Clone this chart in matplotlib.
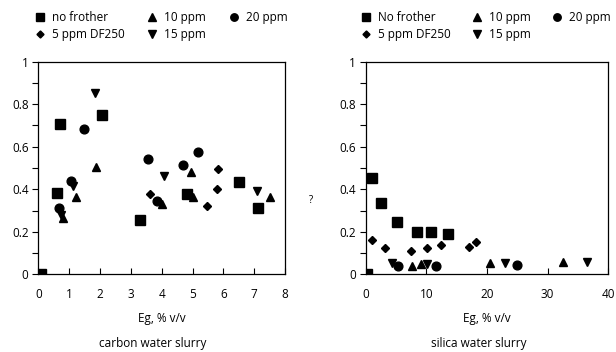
import matplotlib
matplotlib.use("Agg")
import matplotlib.pyplot as plt
import matplotlib.ticker as mticker

plt.rcParams['font.family'] = ['Open Sans', 'DejaVu Sans']

# --- carbon water slurry ---
c_nofrother_x = [0.08, 0.70, 0.59, 2.05, 3.30, 4.83, 6.51, 7.11]
c_nofrother_y = [0.0, 0.707, 0.384, 0.750, 0.256, 0.376, 0.433, 0.314]
c_df250_x = [3.61, 5.48, 5.78, 5.84]
c_df250_y = [0.378, 0.322, 0.403, 0.494]
c_10ppm_x = [0.79, 1.21, 1.88, 4.02, 4.95, 5.01, 7.52]
c_10ppm_y = [0.264, 0.365, 0.504, 0.331, 0.483, 0.362, 0.365]
c_15ppm_x = [0.74, 1.11, 1.84, 4.06, 7.10]
c_15ppm_y = [0.279, 0.416, 0.855, 0.463, 0.394]
c_20ppm_x = [0.68, 1.05, 1.48, 3.57, 3.84, 4.70, 5.17]
c_20ppm_y = [0.314, 0.438, 0.684, 0.544, 0.347, 0.513, 0.573]

# --- silica water slurry ---
s_nofrother_x = [0.16, 0.99, 2.53, 5.22, 8.41, 10.82, 13.63]
s_nofrother_y = [0.0, 0.452, 0.337, 0.245, 0.199, 0.199, 0.191]
s_df250_x = [1.10, 3.24, 7.42, 10.11, 12.42, 17.09, 18.19]
s_df250_y = [0.163, 0.122, 0.110, 0.122, 0.136, 0.130, 0.151]
s_10ppm_x = [7.58, 9.07, 20.44, 32.58]
s_10ppm_y = [0.038, 0.049, 0.053, 0.056]
s_15ppm_x = [4.34, 10.16, 22.97, 36.54]
s_15ppm_y = [0.052, 0.047, 0.052, 0.060]
s_20ppm_x = [5.38, 11.65, 24.95]
s_20ppm_y = [0.041, 0.041, 0.044]

FS = 8.5

fig = plt.figure(figsize=(6.16, 3.52), dpi=100)
ax1 = fig.add_axes([0.0622, 0.2207, 0.4005, 0.604])
ax2 = fig.add_axes([0.5937, 0.2207, 0.3938, 0.604])


def draw(ax, series, first_label, xmax, xstep, leg_x, colsp):
    labels = [first_label, '5 ppm DF250', '10 ppm', '15 ppm', '20 ppm']
    markers = ['s', 'D', '^', 'v', 'o']
    sizes = [6.5, 4.2, 6.0, 6.0, 6.3]
    handles = []
    for (x, y), lab, m, ms in zip(series, labels, markers, sizes):
        h, = ax.plot(x, y, linestyle='none', marker=m, ms=ms, color='black', label=lab)
        handles.append(h)
    ax.set_xlim(0, xmax)
    ax.set_ylim(0, 1)
    ax.xaxis.set_major_locator(mticker.MultipleLocator(xstep))
    ax.yaxis.set_major_locator(mticker.MultipleLocator(0.2))
    ax.yaxis.set_minor_locator(mticker.MultipleLocator(0.1))
    ax.yaxis.set_major_formatter(mticker.FormatStrFormatter('%g'))
    ax.tick_params(axis='x', direction='in', length=4, width=0.8, labelsize=FS, pad=10)
    ax.tick_params(axis='y', which='major', direction='out', length=4, width=0.8, labelsize=FS, pad=3)
    ax.tick_params(axis='y', which='minor', direction='out', length=4, width=0.8)
    for s in ax.spines.values():
        s.set_linewidth(0.9)
    ax.set_xlabel('Eg, % v/v', fontsize=FS, labelpad=8)
    ax.legend(handles=handles, ncol=3, loc='upper left', frameon=False,
              bbox_to_anchor=(leg_x, 1.24), fontsize=FS, handlelength=1.0,
              handletextpad=0.5, columnspacing=colsp, labelspacing=0.35,
              borderaxespad=0, borderpad=0, markerscale=0.85)


draw(ax1, [(c_nofrother_x, c_nofrother_y), (c_df250_x, c_df250_y),
           (c_10ppm_x, c_10ppm_y), (c_15ppm_x, c_15ppm_y), (c_20ppm_x, c_20ppm_y)],
     'no frother', 8, 1, -0.017, 1.85)
draw(ax2, [(s_nofrother_x, s_nofrother_y), (s_df250_x, s_df250_y),
           (s_10ppm_x, s_10ppm_y), (s_15ppm_x, s_15ppm_y), (s_20ppm_x, s_20ppm_y)],
     'No frother', 40, 10, -0.024, 1.75)

fig.text(153 / 616, 1 - 343 / 352, 'carbon water slurry', ha='center', va='center', fontsize=FS)
fig.text(479 / 616, 1 - 343 / 352, 'silica water slurry', ha='center', va='center', fontsize=FS)
fig.text(311 / 616, 1 - 200 / 352, '?', ha='center', va='center', fontsize=7)

fig.savefig('out.png', dpi=100, facecolor='white')
